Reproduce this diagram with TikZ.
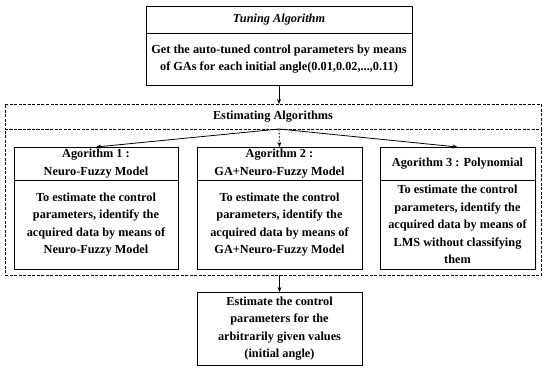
\documentclass[tikz,border=0pt]{standalone}
\usepackage{fontspec}
\setmainfont{Liberation Serif}
\usetikzlibrary{arrows.meta}
\begin{document}
\begin{tikzpicture}[x=1pt,y=-1pt,
  every node/.style={font=\fontsize{12.3}{17.5}\selectfont\bfseries, align=center, inner sep=0pt, outer sep=0pt},
  boxpart/.style={draw, line width=1pt, minimum width=#1},
  dashpart/.style={draw, line width=0.8pt, dash pattern=on 3pt off 1.5pt, minimum width=536pt},
  arr/.style={line width=0.8pt, -{Stealth[length=5pt,width=4pt]}}
]
\useasboundingbox (0,0) rectangle (545,368);
% top box
\node[boxpart=266pt, minimum height=27pt] (tt) at (279,19.5) {\itshape Tuning Algorithm};
\node[boxpart=266pt, minimum height=52pt] (tb) at (279,59) {Get the auto-tuned control parameters by means\\of GAs for each initial angle(0.01,0.02,...,0.11)};
% estimating algorithms
\node[dashpart, minimum height=25pt] (et) at (273,116.5) {Estimating Algorithms};
\node[dashpart, minimum height=146pt] (eb) at (273,202) {};
% algorithm boxes
\node[boxpart=164pt, minimum height=33pt] (a1t) at (96,163.5) {Agorithm 1 :\\Neuro-Fuzzy Model};
\node[boxpart=164pt, minimum height=89pt] (a1b) at (96,224.5) {To estimate the control\\parameters, identify the\\acquired data by means of\\Neuro-Fuzzy Model};
\node[boxpart=165pt, minimum height=33pt] (a2t) at (279.5,163.5) {Agorithm 2 :\\GA+Neuro-Fuzzy Model};
\node[boxpart=165pt, minimum height=89pt] (a2b) at (279.5,224.5) {To estimate the control\\parameters, identify the\\acquired data by means of\\GA+Neuro-Fuzzy Model};
\node[boxpart=155pt, minimum height=33pt] (a3t) at (457.5,163.5) {Agorithm 3 : Polynomial};
\node[boxpart=155pt, minimum height=89pt] (a3b) at (457.5,224.5) {To estimate the control\\parameters, identify the\\acquired data by means of\\LMS without classifying\\them};
% bottom box
\node[boxpart=165pt, minimum height=73pt] (bot) at (279.5,328.5) {Estimate the control\\parameters for the\\arbitrarily given values\\(initial angle)};
% arrows
\draw[arr] (tb.south) -- (et.north -| tb.south);
\coordinate (fan) at (et.south -| tb.south);
\draw[arr] (fan) -- (a1t.north);
\draw[arr, dash pattern=on 2pt off 1.5pt] (fan) -- (a2t.north);
\draw[arr] (fan) -- (a3t.north);
\draw[arr] (eb.south -| bot.north) -- (bot.north);
\end{tikzpicture}
\end{document}
